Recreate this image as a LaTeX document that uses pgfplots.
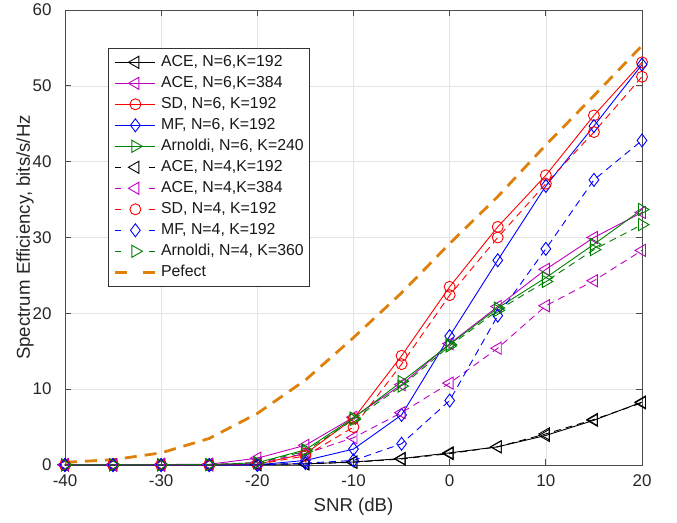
\documentclass[border=0pt]{standalone}
\usepackage{fontspec}
\setmainfont{Liberation Sans}
\usepackage{pgfplots}
\pgfplotsset{compat=1.18}
\definecolor{mag}{rgb}{0.75,0,0.75}
\definecolor{grn}{rgb}{0,0.5,0}
\definecolor{org}{RGB}{222,128,10}
\definecolor{axgray}{gray}{0.3}
\definecolor{txtgray}{gray}{0.15}
\pgfplotsset{
 lt/.style={mark=triangle, mark size=7bp, mark options={solid, rotate=90}},
 rt/.style={mark=triangle, mark size=7bp, mark options={solid, rotate=-90}},
 ci/.style={mark=o, mark size=5.5bp, mark options={solid}},
 di/.style={mark=diamond, mark size=6.5bp, mark options={solid}},
 dsh/.style={dash pattern=on 7bp off 5bp, legend image post style={dash pattern=on 6bp off 28bp}},
}
\begin{document}
\begin{tikzpicture}
\begin{axis}[
 scale only axis, width=577bp, height=455bp,
 xmin=-40, xmax=20, ymin=0, ymax=60,
 xtick={-40,-30,-20,-10,0,10,20}, xticklabels={-40,-30,-20,-10,0,10,20},
 ytick={0,10,20,30,40,50,60}, yticklabels={0,10,20,30,40,50,60},
 tick align=inside, major tick length=6bp,
 grid=major, grid style={gray!22, line width=0.6bp},
 axis line style={axgray, line width=0.7bp},
 every tick/.style={axgray, line width=0.7bp},
 ticklabel style={font=\fontsize{17}{20}\selectfont, text=txtgray},
 xticklabel style={yshift=-6bp},
 yticklabel style={xshift=-10bp},
 xlabel={SNR (dB)}, ylabel={Spectrum Efficiency, bits/s/Hz},
 label style={font=\fontsize{18.7}{22}\selectfont, text=txtgray},
 xlabel style={at={(axis description cs:0.5,-0.0923)}, anchor=center},
 ylabel style={at={(axis description cs:-0.0693,0.5)}, anchor=center},
 legend style={at={(axis description cs:0.0745,0.9165)}, anchor=north west,
   draw=black!80, line width=0.6bp, fill=white,
   font=\fontsize{15.9}{18}\selectfont, text=black!90,
   inner xsep=5.7bp, inner ysep=7bp, row sep=7bp, column sep=4.3bp,
   nodes={inner sep=0bp, text height=11bp, text depth=3bp}},
 legend cell align=left,
 legend image code/.code={\draw[mark repeat=2,mark phase=2,#1] plot coordinates {(0bp,0bp)(20bp,0bp)(40bp,0bp)};},
 every axis plot/.append style={line width=0.9bp},
]
% ACE N=6 K=192
\addplot[black, lt] coordinates {(-40,0.02)(-35,0.02)(-30,0.03)(-25,0.04)(-20,0.07)(-15,0.15)(-10,0.4)(-5,0.85)(0,1.6)(5,2.4)(10,3.9)(15,5.9)(20,8.3)};
\addlegendentry{ACE, N=6,K=192}
% ACE N=6 K=384
\addplot[mag, lt] coordinates {(-40,0.05)(-35,0.05)(-30,0.06)(-25,0.1)(-20,0.9)(-15,2.6)(-10,6.3)(-5,10.6)(0,16.0)(5,20.9)(10,25.8)(15,30.0)(20,33.3)};
\addlegendentry{ACE, N=6,K=384}
% SD N=6
\addplot[red, ci] coordinates {(-40,0)(-35,0)(-30,0)(-25,0.01)(-20,0.1)(-15,1.5)(-10,6.1)(-5,14.4)(0,23.5)(5,31.4)(10,38.2)(15,46.1)(20,53.1)};
\addlegendentry{SD, N=6, K=192}
% MF N=6
\addplot[blue, di] coordinates {(-40,0)(-35,0)(-30,0)(-25,0)(-20,0.03)(-15,0.6)(-10,2.1)(-5,6.6)(0,17.0)(5,27.0)(10,36.8)(15,44.7)(20,52.8)};
\addlegendentry{MF, N=6, K=192}
% Arnoldi N=6
\addplot[grn, rt] coordinates {(-40,0.02)(-35,0.02)(-30,0.03)(-25,0.05)(-20,0.3)(-15,2.0)(-10,6.2)(-5,11.0)(0,15.9)(5,20.7)(10,24.7)(15,29.1)(20,33.7)};
\addlegendentry{Arnoldi, N=6, K=240}
% ACE N=4 K=192
\addplot[black, lt, dsh] coordinates {(-40,0.02)(-35,0.02)(-30,0.03)(-25,0.04)(-20,0.07)(-15,0.15)(-10,0.35)(-5,0.8)(0,1.5)(5,2.4)(10,4.1)(15,6.0)(20,8.2)};
\addlegendentry{ACE, N=4,K=192}
% ACE N=4 K=384
\addplot[mag, lt, dsh] coordinates {(-40,0.02)(-35,0.02)(-30,0.03)(-25,0.05)(-20,0.3)(-15,1.5)(-10,3.6)(-5,6.9)(0,10.8)(5,15.4)(10,21.0)(15,24.3)(20,28.3)};
\addlegendentry{ACE, N=4,K=384}
% SD N=4
\addplot[red, ci, dsh] coordinates {(-40,0)(-35,0)(-30,0)(-25,0.01)(-20,0.08)(-15,1.2)(-10,5.0)(-5,13.3)(0,22.4)(5,30.0)(10,37.1)(15,43.9)(20,51.2)};
\addlegendentry{SD, N=4, K=192}
% MF N=4
\addplot[blue, di, dsh] coordinates {(-40,0)(-35,0)(-30,0)(-25,0)(-20,0.01)(-15,0.25)(-10,0.6)(-5,2.8)(0,8.5)(5,19.7)(10,28.5)(15,37.6)(20,42.8)};
\addlegendentry{MF, N=4, K=192}
% Arnoldi N=4
\addplot[grn, rt, dsh] coordinates {(-40,0.02)(-35,0.02)(-30,0.03)(-25,0.05)(-20,0.3)(-15,1.8)(-10,6.0)(-5,10.4)(0,15.7)(5,20.4)(10,24.2)(15,28.4)(20,31.7)};
\addlegendentry{Arnoldi, N=4, K=360}
% Perfect
\addplot[org, line width=2.8bp, dash pattern=on 12bp off 8bp, legend image post style={dash pattern=on 12bp off 16bp}] coordinates {(-40,0.35)(-35,0.7)(-30,1.6)(-25,3.5)(-20,6.8)(-15,11.2)(-10,16.8)(-5,22.7)(0,29.2)(5,35.4)(10,42.2)(15,48.7)(20,55.3)};
\addlegendentry{Pefect}
\end{axis}
\path (current axis.south west) ++(-65bp,-58bp) rectangle ++(677bp,523bp);
\end{tikzpicture}
\end{document}
